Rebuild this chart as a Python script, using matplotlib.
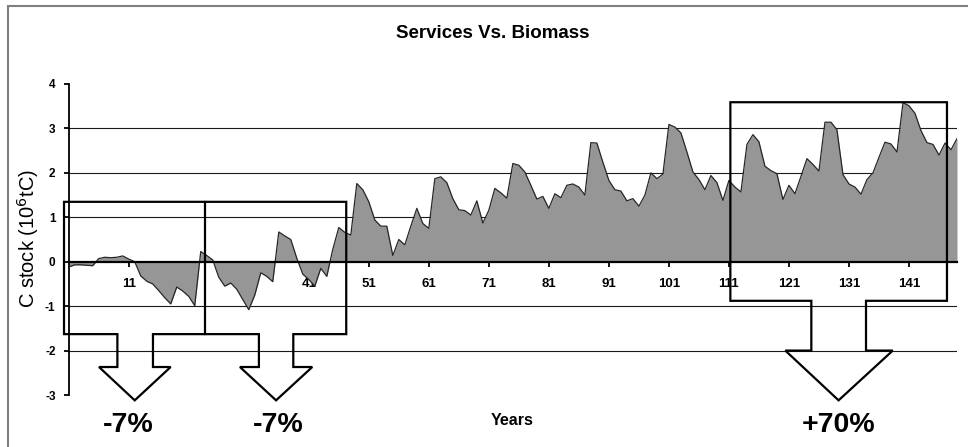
import matplotlib
matplotlib.use('Agg')
import matplotlib.pyplot as plt
from matplotlib.patches import Polygon, Rectangle
import numpy as np

# Constants and configurations
OUTPUT_FILE = 'out.png'
FIG_W, FIG_H, DPI = 968, 447, 100
FONT = 'Liberation Sans'
AREA_COLOR = '#969696'

TITLE = 'Services Vs. Biomass'
Y_LABEL = 'C stock (10$^{6}$tC)'
X_LABEL = 'Years'

# Yearly C stock difference (10^6 tC), years 1..149
years = np.arange(1, 150)
c_stock = [
    -0.12, -0.07, -0.07, -0.08, -0.09, 0.07, 0.10, 0.09, 0.10, 0.13,
    0.06, 0.00, -0.32, -0.44, -0.50, -0.65, -0.81, -0.95, -0.57, -0.66,
    -0.78, -0.99, 0.23, 0.14, 0.04, -0.35, -0.55, -0.48, -0.62, -0.85,
    -1.08, -0.75, -0.25, -0.33, -0.45, 0.67, 0.58, 0.50, 0.08, -0.28,
    -0.40, -0.55, -0.15, -0.33, 0.28, 0.77, 0.66, 0.60, 1.76, 1.62,
    1.35, 0.94, 0.80, 0.80, 0.14, 0.50, 0.38, 0.80, 1.20, 0.86,
    0.75, 1.87, 1.91, 1.78, 1.42, 1.17, 1.15, 1.05, 1.37, 0.87,
    1.16, 1.65, 1.55, 1.43, 2.21, 2.17, 2.02, 1.72, 1.41, 1.47,
    1.20, 1.53, 1.44, 1.72, 1.75, 1.68, 1.50, 2.68, 2.67, 2.24,
    1.83, 1.62, 1.59, 1.37, 1.42, 1.25, 1.50, 2.00, 1.87, 1.97,
    3.09, 3.03, 2.90, 2.47, 2.02, 1.85, 1.62, 1.94, 1.78, 1.38,
    1.83, 1.68, 1.57, 2.64, 2.86, 2.70, 2.15, 2.05, 1.98, 1.40,
    1.72, 1.53, 1.92, 2.32, 2.19, 2.04, 3.14, 3.14, 2.97, 1.96,
    1.75, 1.68, 1.52, 1.85, 2.00, 2.35, 2.69, 2.65, 2.47, 3.58,
    3.51, 3.34, 2.95, 2.68, 2.64, 2.40, 2.67, 2.52, 2.77,
]

x_ticks = [11, 21, 31, 41, 51, 61, 71, 81, 91, 101, 111, 121, 131, 141]
y_ticks = [-3, -2, -1, 0, 1, 2, 3, 4]
y_grid = [-2, -1, 1, 2, 3]

# Callout boxes (years, C stock) and their percentage labels
left_box = [(0.22, -1.63), (0.22, 1.348), (47.24, 1.348), (47.24, -1.63),
            (38.42, -1.63), (38.42, -2.37), (41.58, -2.37), (35.55, -3.12),
            (29.53, -2.37), (32.69, -2.37), (32.69, -1.63), (15.04, -1.63),
            (15.04, -2.37), (17.99, -2.37), (12.0, -3.12), (6.05, -2.37),
            (9.11, -2.37), (9.11, -1.63)]
left_divider = [(23.7, 1.348), (23.7, -1.63)]
right_box = [(111.24, -0.88), (111.24, 3.59), (147.33, 3.59), (147.33, -0.88),
             (133.84, -0.88), (133.84, -2.0), (138.3, -2.0), (129.27, -3.12),
             (120.4, -2.0), (124.73, -2.0), (124.73, -0.88)]
change_labels = ['-7%', '-7%', '+70%']
change_x = [10.9, 35.85, 129.27]


def px_box(left, top, right, bottom):
    """Converts a pixel box (from top-left) to figure fractions."""
    return [left / FIG_W, 1 - bottom / FIG_H, (right - left) / FIG_W, (bottom - top) / FIG_H]


def draw_area(ax):
    ax.fill_between(years, c_stock, 0, color=AREA_COLOR, linewidth=0, zorder=2)
    ax.plot(years, c_stock, color='#262626', linewidth=0.9, zorder=3)
    for g in y_grid:
        ax.axhline(g, color='#1a1a1a', linewidth=0.8, zorder=1)


def style_axes(ax):
    ax.set_xlim(1, 149)
    ax.set_ylim(-3, 4)
    for side in ['top', 'right']:
        ax.spines[side].set_visible(False)
    ax.spines['bottom'].set_position(('data', 0))
    ax.spines['bottom'].set_linewidth(1.6)
    ax.spines['bottom'].set_zorder(4)
    ax.spines['left'].set_linewidth(1.3)

    ax.set_xticks(x_ticks)
    ax.set_xticklabels([str(t) for t in x_ticks], fontsize=9.5, fontweight='bold', family=FONT)
    ax.tick_params(axis='x', direction='out', length=3.5, width=1.3, pad=8)
    ax.set_yticks(y_ticks)
    ax.set_yticklabels([str(t) for t in y_ticks], fontsize=8.5, fontweight='bold', family=FONT)
    ax.tick_params(axis='y', direction='out', length=3.5, width=1.3, pad=6)


def draw_callouts(ax):
    for shape in [left_box, right_box]:
        ax.add_patch(Polygon(shape, closed=True, fill=False, edgecolor='black',
                             linewidth=1.6, joinstyle='miter', clip_on=False, zorder=5))
    xs, ys = zip(*left_divider)
    ax.plot(xs, ys, color='black', linewidth=1.6, clip_on=False, zorder=5)
    for label, x in zip(change_labels, change_x):
        ax.text(x, -3.68, label, ha='center', va='center', fontsize=20.5,
                fontweight='bold', family=FONT, clip_on=False)
    ax.text(74.9, -3.57, X_LABEL, ha='center', va='center', fontsize=11.5,
            fontweight='bold', family=FONT, clip_on=False)


fig = plt.figure(figsize=(FIG_W / DPI, FIG_H / DPI), dpi=DPI)
fig.patches.append(Rectangle((8 / FIG_W, -0.1), 1.2, 1 - 6 / FIG_H + 0.1,
                             transform=fig.transFigure, fill=False,
                             edgecolor='#7f7f7f', linewidth=1.5))
ax = fig.add_axes(px_box(68.7, 84, 957, 395))
draw_area(ax)
style_axes(ax)
draw_callouts(ax)

fig.text(493 / FIG_W, 1 - 33 / FIG_H, TITLE, ha='center', va='center',
         fontsize=13.5, fontweight='bold', family=FONT)
fig.text(28 / FIG_W, 1 - 239 / FIG_H, Y_LABEL, ha='center', va='center',
         rotation=90, fontsize=14.5, family=FONT)

fig.savefig(OUTPUT_FILE, dpi=DPI)
